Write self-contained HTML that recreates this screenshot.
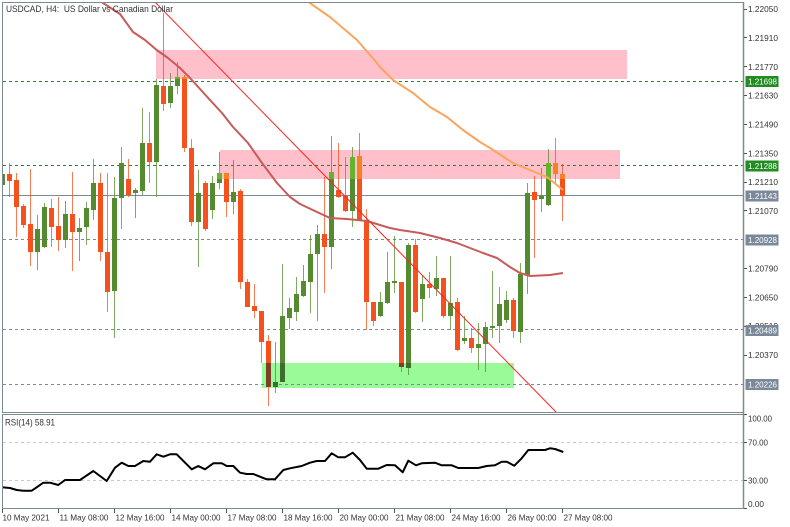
<!DOCTYPE html>
<html>
<head>
<meta charset="utf-8">
<style>
html,body{margin:0;padding:0;background:#fff;}
svg{display:block;}
text{font-family:"Liberation Sans",sans-serif;}
</style>
</head>
<body>
<svg width="790" height="527" viewBox="0 0 790 527" xmlns="http://www.w3.org/2000/svg">
<rect x="0" y="0" width="790" height="527" fill="#fff"/>
<defs>
<clipPath id="mc"><rect x="3" y="3" width="740" height="409"/></clipPath>
<clipPath id="rc"><rect x="3" y="415" width="740" height="93"/></clipPath>
</defs>

<g clip-path="url(#mc)">
<!-- zones -->
<rect x="156" y="50" width="471" height="29" fill="#ffc0cb"/>
<rect x="220" y="150" width="400" height="29" fill="#ffc0cb"/>
<rect x="262" y="363" width="252" height="25" fill="#98fb98"/>

<!-- level lines -->
<g shape-rendering="crispEdges" stroke-width="1" fill="none">
<line x1="3" y1="81.5" x2="743" y2="81.5" stroke="#2e7d32" stroke-dasharray="3,3"/>
<line x1="3" y1="165.5" x2="743" y2="165.5" stroke="#2e7d32" stroke-dasharray="3,3"/>
<line x1="3" y1="195.5" x2="743" y2="195.5" stroke="#7b8a94"/>
<line x1="3" y1="239.5" x2="743" y2="239.5" stroke="#7b8a94" stroke-dasharray="3,3"/>
<line x1="3" y1="329.5" x2="743" y2="329.5" stroke="#7b8a94" stroke-dasharray="3,3"/>
<line x1="3" y1="384.5" x2="743" y2="384.5" stroke="#7b8a94" stroke-dasharray="3,3"/>
</g>

<!-- wicks -->
<g stroke-width="1" shape-rendering="crispEdges" opacity="0.75">
<g stroke="#558b2f">
<line x1="2.5" y1="170" x2="2.5" y2="188"/>
<line x1="37.5" y1="215" x2="37.5" y2="270"/>
<line x1="44.5" y1="203" x2="44.5" y2="248"/>
<line x1="65.5" y1="201" x2="65.5" y2="248"/>
<line x1="79.5" y1="218" x2="79.5" y2="261"/>
<line x1="86.5" y1="202" x2="86.5" y2="245"/>
<line x1="93.5" y1="159" x2="93.5" y2="220"/>
<line x1="114.5" y1="177" x2="114.5" y2="338"/>
<line x1="121.5" y1="147" x2="121.5" y2="229"/>
<line x1="135.5" y1="188" x2="135.5" y2="218"/>
<line x1="142.5" y1="108" x2="142.5" y2="195"/>
<line x1="156.5" y1="79" x2="156.5" y2="197"/>
<line x1="170.5" y1="73" x2="170.5" y2="108"/>
<line x1="177.5" y1="62" x2="177.5" y2="94"/>
<line x1="198.5" y1="170" x2="198.5" y2="267"/>
<line x1="212.5" y1="176" x2="212.5" y2="219"/>
<line x1="219.5" y1="152" x2="219.5" y2="189"/>
<line x1="233.5" y1="160" x2="233.5" y2="214"/>
<line x1="275.5" y1="342" x2="275.5" y2="393"/>
<line x1="282.5" y1="264" x2="282.5" y2="382"/>
<line x1="289.5" y1="298" x2="289.5" y2="329"/>
<line x1="296.5" y1="277" x2="296.5" y2="321"/>
<line x1="303.5" y1="265" x2="303.5" y2="297"/>
<line x1="310.5" y1="235" x2="310.5" y2="313"/>
<line x1="317.5" y1="225" x2="317.5" y2="321"/>
<line x1="331.5" y1="136" x2="331.5" y2="269"/>
<line x1="352.5" y1="147" x2="352.5" y2="227"/>
<line x1="380.5" y1="292" x2="380.5" y2="317"/>
<line x1="387.5" y1="252" x2="387.5" y2="304"/>
<line x1="394.5" y1="236" x2="394.5" y2="293"/>
<line x1="408.5" y1="243" x2="408.5" y2="375"/>
<line x1="422.5" y1="275" x2="422.5" y2="322"/>
<line x1="436.5" y1="256" x2="436.5" y2="296"/>
<line x1="450.5" y1="256" x2="450.5" y2="330"/>
<line x1="464.5" y1="316" x2="464.5" y2="344"/>
<line x1="478.5" y1="323" x2="478.5" y2="370"/>
<line x1="485.5" y1="322" x2="485.5" y2="372"/>
<line x1="492.5" y1="271" x2="492.5" y2="338"/>
<line x1="499.5" y1="287" x2="499.5" y2="343"/>
<line x1="506.5" y1="291" x2="506.5" y2="323"/>
<line x1="520.5" y1="263" x2="520.5" y2="343"/>
<line x1="527.5" y1="183" x2="527.5" y2="294"/>
<line x1="541.5" y1="168" x2="541.5" y2="212"/>
<line x1="548.5" y1="149" x2="548.5" y2="206"/>
</g>
<g stroke="#f4511e">
<line x1="9.5" y1="163" x2="9.5" y2="197"/>
<line x1="16.5" y1="173" x2="16.5" y2="237"/>
<line x1="23.5" y1="204" x2="23.5" y2="228"/>
<line x1="30.5" y1="169" x2="30.5" y2="266"/>
<line x1="51.5" y1="199" x2="51.5" y2="247"/>
<line x1="58.5" y1="197" x2="58.5" y2="251"/>
<line x1="72.5" y1="172" x2="72.5" y2="271"/>
<line x1="100.5" y1="173" x2="100.5" y2="261"/>
<line x1="107.5" y1="173" x2="107.5" y2="312"/>
<line x1="128.5" y1="159" x2="128.5" y2="197"/>
<line x1="149.5" y1="112" x2="149.5" y2="183"/>
<line x1="163.5" y1="13" x2="163.5" y2="111"/>
<line x1="184.5" y1="75" x2="184.5" y2="152"/>
<line x1="191.5" y1="139" x2="191.5" y2="226"/>
<line x1="205.5" y1="181" x2="205.5" y2="231"/>
<line x1="226.5" y1="173" x2="226.5" y2="217"/>
<line x1="240.5" y1="189" x2="240.5" y2="289"/>
<line x1="247.5" y1="279" x2="247.5" y2="307"/>
<line x1="254.5" y1="284" x2="254.5" y2="318"/>
<line x1="261.5" y1="311" x2="261.5" y2="363"/>
<line x1="268.5" y1="335" x2="268.5" y2="406"/>
<line x1="324.5" y1="177" x2="324.5" y2="293"/>
<line x1="338.5" y1="143" x2="338.5" y2="198"/>
<line x1="345.5" y1="157" x2="345.5" y2="212"/>
<line x1="359.5" y1="133" x2="359.5" y2="221"/>
<line x1="366.5" y1="209" x2="366.5" y2="330"/>
<line x1="373.5" y1="302" x2="373.5" y2="326"/>
<line x1="401.5" y1="282" x2="401.5" y2="372"/>
<line x1="415.5" y1="239" x2="415.5" y2="313"/>
<line x1="429.5" y1="272" x2="429.5" y2="298"/>
<line x1="443.5" y1="278" x2="443.5" y2="318"/>
<line x1="457.5" y1="298" x2="457.5" y2="351"/>
<line x1="471.5" y1="328" x2="471.5" y2="353"/>
<line x1="513.5" y1="298" x2="513.5" y2="338"/>
<line x1="534.5" y1="176" x2="534.5" y2="258"/>
<line x1="555.5" y1="138" x2="555.5" y2="183"/>
<line x1="562.5" y1="164" x2="562.5" y2="221"/>
</g>
</g>

<!-- bodies -->
<g shape-rendering="crispEdges">
<g fill="#558b2f">
<rect x="0" y="174" width="5" height="11"/>
<rect x="35" y="229" width="5" height="23"/>
<rect x="42" y="207" width="5" height="40"/>
<rect x="63" y="214" width="5" height="26"/>
<rect x="77" y="228" width="5" height="4"/>
<rect x="84" y="208" width="5" height="19"/>
<rect x="91" y="183" width="5" height="27"/>
<rect x="112" y="198" width="5" height="93"/>
<rect x="119" y="163" width="5" height="35"/>
<rect x="133" y="190" width="5" height="3"/>
<rect x="140" y="143" width="5" height="48"/>
<rect x="154" y="85" width="5" height="77"/>
<rect x="168" y="86" width="5" height="17"/>
<rect x="175" y="77" width="5" height="9"/>
<rect x="196" y="193" width="5" height="29"/>
<rect x="210" y="183" width="5" height="27"/>
<rect x="217" y="173" width="5" height="10"/>
<rect x="231" y="192" width="5" height="10"/>
<rect x="273" y="382" width="5" height="5"/>
<rect x="280" y="316" width="5" height="66"/>
<rect x="287" y="308" width="5" height="10"/>
<rect x="294" y="294" width="5" height="18"/>
<rect x="301" y="281" width="5" height="15"/>
<rect x="308" y="254" width="5" height="28"/>
<rect x="315" y="234" width="5" height="20"/>
<rect x="329" y="172" width="5" height="75"/>
<rect x="350" y="157" width="5" height="54"/>
<rect x="378" y="302" width="5" height="14"/>
<rect x="385" y="282" width="5" height="21"/>
<rect x="392" y="281" width="5" height="2"/>
<rect x="406" y="245" width="5" height="123"/>
<rect x="420" y="284" width="5" height="15"/>
<rect x="434" y="278" width="5" height="11"/>
<rect x="448" y="303" width="5" height="13"/>
<rect x="462" y="338" width="5" height="3"/>
<rect x="476" y="344" width="5" height="4"/>
<rect x="483" y="327" width="5" height="17"/>
<rect x="490" y="326" width="5" height="2"/>
<rect x="497" y="304" width="5" height="22"/>
<rect x="504" y="300" width="5" height="20"/>
<rect x="518" y="274" width="5" height="58"/>
<rect x="525" y="193" width="5" height="82"/>
<rect x="539" y="196" width="5" height="3"/>
<rect x="546" y="163" width="5" height="42"/>
</g>
<g fill="#f4511e">
<rect x="7" y="174" width="5" height="7"/>
<rect x="14" y="180" width="5" height="27"/>
<rect x="21" y="206" width="5" height="19"/>
<rect x="28" y="224" width="5" height="28"/>
<rect x="49" y="208" width="5" height="19"/>
<rect x="56" y="226" width="5" height="14"/>
<rect x="70" y="214" width="5" height="18"/>
<rect x="98" y="183" width="5" height="69"/>
<rect x="105" y="252" width="5" height="40"/>
<rect x="126" y="179" width="5" height="16"/>
<rect x="147" y="143" width="5" height="19"/>
<rect x="161" y="86" width="5" height="18"/>
<rect x="182" y="77" width="5" height="71"/>
<rect x="189" y="148" width="5" height="74"/>
<rect x="203" y="183" width="5" height="46"/>
<rect x="224" y="173" width="5" height="29"/>
<rect x="238" y="191" width="5" height="91"/>
<rect x="245" y="282" width="5" height="25"/>
<rect x="252" y="306" width="5" height="5"/>
<rect x="259" y="311" width="5" height="31"/>
<rect x="266" y="341" width="5" height="46"/>
<rect x="322" y="234" width="5" height="13"/>
<rect x="336" y="190" width="5" height="7"/>
<rect x="343" y="196" width="5" height="15"/>
<rect x="357" y="156" width="5" height="64"/>
<rect x="364" y="220" width="5" height="82"/>
<rect x="371" y="302" width="5" height="19"/>
<rect x="399" y="282" width="5" height="85"/>
<rect x="413" y="245" width="5" height="67"/>
<rect x="427" y="284" width="5" height="4"/>
<rect x="441" y="278" width="5" height="38"/>
<rect x="455" y="302" width="5" height="48"/>
<rect x="469" y="338" width="5" height="10"/>
<rect x="511" y="300" width="5" height="31"/>
<rect x="532" y="192" width="5" height="8"/>
<rect x="553" y="163" width="5" height="11"/>
<rect x="560" y="174" width="5" height="22"/>
</g>
<!-- overlap tints: pink zones -->
<g fill="#66b32e">
<rect x="175" y="77" width="5" height="2"/>
<rect x="217" y="173" width="5" height="6"/>
<rect x="329" y="172" width="5" height="7"/>
<rect x="350" y="157" width="5" height="22"/>
<rect x="546" y="163" width="5" height="16"/>
</g>
<g fill="#f5821f">
<rect x="182" y="77" width="5" height="2"/>
<rect x="224" y="173" width="5" height="6"/>
<rect x="357" y="156" width="5" height="23"/>
<rect x="553" y="163" width="5" height="11"/>
<rect x="560" y="174" width="5" height="5"/>
</g>
<!-- overlap tints: green zone -->
<g fill="#7e3f27">
<rect x="266" y="363" width="5" height="24"/>
<rect x="399" y="363" width="5" height="4"/>
</g>
<g fill="#3f6e2c">
<rect x="273" y="382" width="5" height="5"/>
<rect x="280" y="363" width="5" height="19"/>
<rect x="406" y="363" width="5" height="5"/>
</g>
</g>

<!-- moving averages -->
<polyline fill="none" stroke="#c85a5a" stroke-width="2" stroke-linejoin="round" points="98,-2 100,1 120,14 133,32 145,40 156.7,50 168,58 180,68 190,78 200,89 210,100 222,113 233,127 248,143 262,163 277,183 290,197 300,204 317,212 330,218 347,219 367,221 380,225 390,228 400,230 420,233 440,238 457,243 470,248 483,253 497,258 510,267 520,273 530,276 550,275 563,273"/>
<polyline fill="none" stroke="#f7a65c" stroke-width="2" stroke-linejoin="round" points="305,-2 307,1 330,17 357,40 377,63 380,67 393,80 413,93 430,107 447,117 463,130 480,142 490,148 513,163 530,170 547,177 563,190"/>
<!-- trend line -->
<line x1="151" y1="-2" x2="557" y2="413" stroke="#ff2020" stroke-width="1"/>
</g>

<!-- title -->
<text x="6" y="12" font-size="9.5" fill="#333" textLength="167" lengthAdjust="spacingAndGlyphs" style="white-space:pre">USDCAD, H4:  US Dollar vs Canadian Dollar</text>

<!-- RSI panel -->
<g clip-path="url(#rc)">
<line x1="3" y1="442.5" x2="743" y2="442.5" stroke="#c8c8c8" stroke-dasharray="3,3" shape-rendering="crispEdges"/>
<line x1="3" y1="480.5" x2="743" y2="480.5" stroke="#c8c8c8" stroke-dasharray="3,3" shape-rendering="crispEdges"/>
<polyline fill="none" stroke="#000" stroke-width="2" stroke-linejoin="round" points="2.7,487.3 10,488 16.7,490 23.3,490.7 31.7,490.7 36.7,487.3 43.3,482.7 50,482.7 58.3,485 65,480 80,480 93.3,471 106.7,481 115,467.7 121.7,462.7 128.3,466 135,466 143.3,461 150,461.7 156.7,454.3 163.3,456.7 170,454.3 176.7,454.3 191.7,469.3 198.3,466 205,469.3 213.3,463.3 221.7,463.3 226.7,466 233.3,466 240,472.7 246.7,474 253.3,474 260,476.7 266.7,479.3 275,479.3 283.3,470 290,468.3 301.7,466 310,462.7 316.7,461 325,461 331.7,453.3 338.3,457.3 345,457.3 352.7,452.7 360,460 366.7,468.7 378.3,468.7 386.7,465 395,465.3 402.7,472.3 408.3,460.7 416,465.3 421.7,463.3 435,462.7 441.7,465.3 451.7,465.3 458.3,468 478.3,468 486.7,466 495,465.3 501.7,461.7 506.7,461.7 514.3,465.7 521.7,458.3 528.3,450 545,450 550,448.3 555,449 563.3,452"/>
</g>
<text x="5" y="425.5" font-size="9" fill="#333" textLength="50" lengthAdjust="spacingAndGlyphs">RSI(14) 58.91</text>

<!-- frames -->
<g fill="none" stroke="#7b8b8f" stroke-width="1" shape-rendering="crispEdges">
<rect x="2.5" y="2.5" width="741" height="410"/>
<rect x="2.5" y="414.5" width="741" height="94"/>
</g>
<line x1="743.5" y1="2" x2="743.5" y2="509" stroke="#7b8b8f" stroke-width="1.5"/>

<!-- price axis ticks -->
<g stroke="#555" stroke-width="1" shape-rendering="crispEdges">
<line x1="744" y1="9.5" x2="747" y2="9.5"/>
<line x1="744" y1="37.5" x2="747" y2="37.5"/>
<line x1="744" y1="66.5" x2="747" y2="66.5"/>
<line x1="744" y1="95.5" x2="747" y2="95.5"/>
<line x1="744" y1="124.5" x2="747" y2="124.5"/>
<line x1="744" y1="153.5" x2="747" y2="153.5"/>
<line x1="744" y1="182.5" x2="747" y2="182.5"/>
<line x1="744" y1="210.5" x2="747" y2="210.5"/>
<line x1="744" y1="268.5" x2="747" y2="268.5"/>
<line x1="744" y1="297.5" x2="747" y2="297.5"/>
<line x1="744" y1="326.5" x2="747" y2="326.5"/>
<line x1="744" y1="355.5" x2="747" y2="355.5"/>
<line x1="744" y1="414.5" x2="747" y2="414.5"/>
<line x1="744" y1="442.5" x2="747" y2="442.5"/>
<line x1="744" y1="480.5" x2="747" y2="480.5"/>
<line x1="744" y1="508.5" x2="747" y2="508.5"/>
</g>
<g font-size="8.5" fill="#333" lengthAdjust="spacingAndGlyphs">
<text x="748" y="12" textLength="30" lengthAdjust="spacingAndGlyphs">1.22050</text>
<text x="748" y="41" textLength="30" lengthAdjust="spacingAndGlyphs">1.21910</text>
<text x="748" y="70" textLength="30" lengthAdjust="spacingAndGlyphs">1.21770</text>
<text x="748" y="98.5" textLength="30" lengthAdjust="spacingAndGlyphs">1.21630</text>
<text x="748" y="127.5" textLength="30" lengthAdjust="spacingAndGlyphs">1.21490</text>
<text x="748" y="156.5" textLength="30" lengthAdjust="spacingAndGlyphs">1.21350</text>
<text x="748" y="185" textLength="30" lengthAdjust="spacingAndGlyphs">1.21210</text>
<text x="748" y="214" textLength="30" lengthAdjust="spacingAndGlyphs">1.21070</text>
<text x="748" y="271.5" textLength="30" lengthAdjust="spacingAndGlyphs">1.20790</text>
<text x="748" y="300.5" textLength="30" lengthAdjust="spacingAndGlyphs">1.20650</text>
<text x="748" y="329" textLength="30" lengthAdjust="spacingAndGlyphs">1.20510</text>
<text x="748" y="358" textLength="30" lengthAdjust="spacingAndGlyphs">1.20370</text>
<text x="748" y="421.5" textLength="24" lengthAdjust="spacingAndGlyphs">100.00</text>
<text x="748" y="445.5" textLength="20" lengthAdjust="spacingAndGlyphs">70.00</text>
<text x="748" y="483.5" textLength="20" lengthAdjust="spacingAndGlyphs">30.00</text>
<text x="748" y="507" textLength="16" lengthAdjust="spacingAndGlyphs">0.00</text>
</g>

<!-- price boxes -->
<g shape-rendering="crispEdges">
<rect x="745.5" y="76" width="33" height="11" fill="#228b22"/>
<rect x="745.5" y="160.5" width="33" height="11" fill="#228b22"/>
<rect x="745.5" y="190.5" width="33" height="11" fill="#7a8899"/>
<rect x="745.5" y="234.5" width="33" height="11" fill="#7a8899"/>
<rect x="745.5" y="325" width="33" height="11" fill="#7a8899"/>
<rect x="745.5" y="379" width="33" height="11" fill="#7a8899"/>
</g>
<g font-size="8.5" fill="#fff">
<text x="748" y="84.7" textLength="29" lengthAdjust="spacingAndGlyphs">1.21698</text>
<text x="748" y="169.2" textLength="29" lengthAdjust="spacingAndGlyphs">1.21288</text>
<text x="748" y="199.2" textLength="29" lengthAdjust="spacingAndGlyphs">1.21143</text>
<text x="748" y="243.2" textLength="29" lengthAdjust="spacingAndGlyphs">1.20928</text>
<text x="748" y="333.7" textLength="29" lengthAdjust="spacingAndGlyphs">1.20489</text>
<text x="748" y="387.7" textLength="29" lengthAdjust="spacingAndGlyphs">1.20226</text>
</g>

<!-- time axis -->
<g stroke="#555" stroke-width="1" shape-rendering="crispEdges">
<line x1="2.5" y1="509" x2="2.5" y2="513"/>
<line x1="58.5" y1="509" x2="58.5" y2="513"/>
<line x1="114.5" y1="509" x2="114.5" y2="513"/>
<line x1="170.5" y1="509" x2="170.5" y2="513"/>
<line x1="226.5" y1="509" x2="226.5" y2="513"/>
<line x1="282.5" y1="509" x2="282.5" y2="513"/>
<line x1="338.5" y1="509" x2="338.5" y2="513"/>
<line x1="394.5" y1="509" x2="394.5" y2="513"/>
<line x1="450.5" y1="509" x2="450.5" y2="513"/>
<line x1="506.5" y1="509" x2="506.5" y2="513"/>
<line x1="562.5" y1="509" x2="562.5" y2="513"/>
</g>
<g font-size="8.5" fill="#333">
<text x="2.5" y="520.5" textLength="47" lengthAdjust="spacingAndGlyphs">10 May 2021</text>
<text x="59.5" y="520.5" textLength="49" lengthAdjust="spacingAndGlyphs">11 May 08:00</text>
<text x="115.5" y="520.5" textLength="49" lengthAdjust="spacingAndGlyphs">12 May 16:00</text>
<text x="171.5" y="520.5" textLength="49" lengthAdjust="spacingAndGlyphs">14 May 00:00</text>
<text x="227.5" y="520.5" textLength="49" lengthAdjust="spacingAndGlyphs">17 May 08:00</text>
<text x="283.5" y="520.5" textLength="49" lengthAdjust="spacingAndGlyphs">18 May 16:00</text>
<text x="339.5" y="520.5" textLength="49" lengthAdjust="spacingAndGlyphs">20 May 00:00</text>
<text x="395.5" y="520.5" textLength="49" lengthAdjust="spacingAndGlyphs">21 May 08:00</text>
<text x="451.5" y="520.5" textLength="49" lengthAdjust="spacingAndGlyphs">24 May 16:00</text>
<text x="507.5" y="520.5" textLength="49" lengthAdjust="spacingAndGlyphs">26 May 00:00</text>
<text x="563.5" y="520.5" textLength="49" lengthAdjust="spacingAndGlyphs">27 May 08:00</text>
</g>
</svg>
</body>
</html>
